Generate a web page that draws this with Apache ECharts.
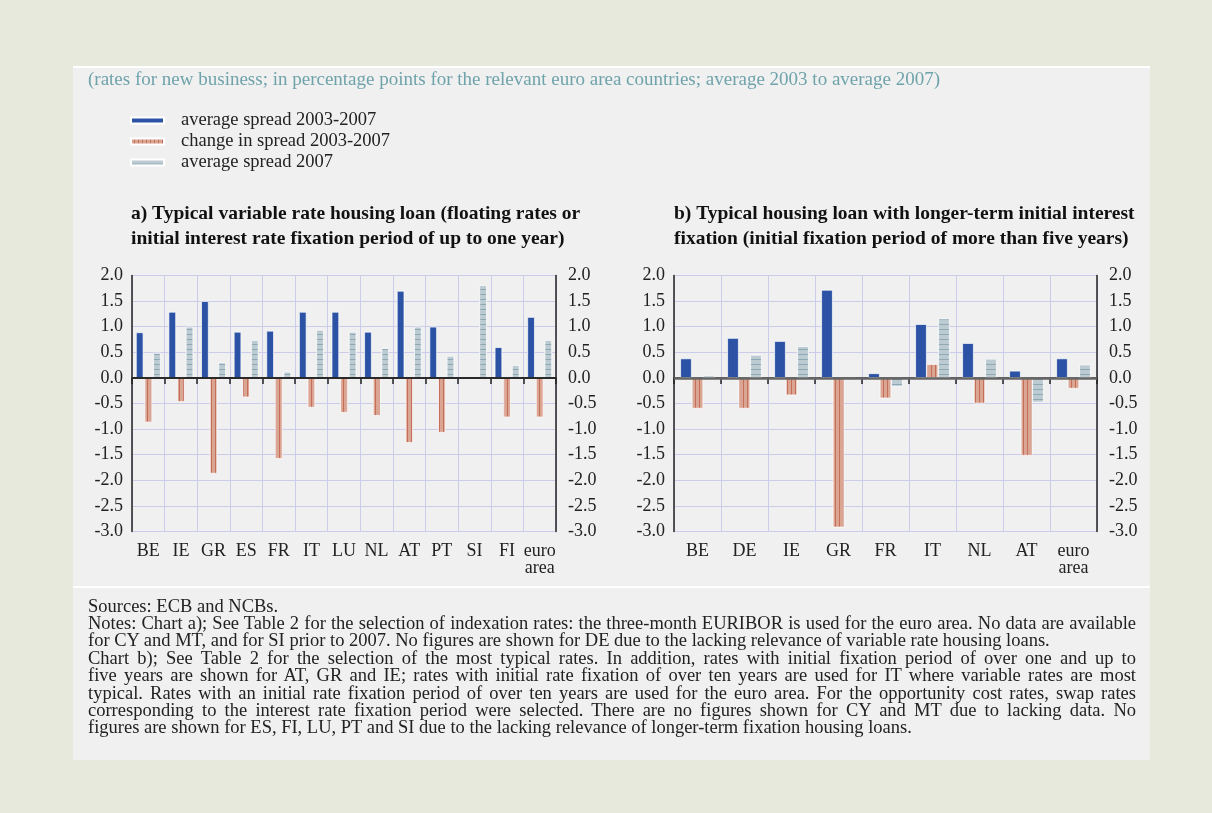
<!DOCTYPE html>
<html>
<head>
<meta charset="utf-8">
<script src="https://cdn.jsdelivr.net/npm/echarts@6/dist/echarts.min.js"></script>
<style>
  html, body { margin: 0; padding: 0; background: #e6e9dc; }
  #panel { position: absolute; left: 73px; top: 66px; width: 1077px; height: 694px;
    background: #eff0ef; border-top: 2px solid #fff; box-sizing: border-box; }
  #sep { position: absolute; left: 73px; top: 586px; width: 1077px; height: 2px; background: #fff; }
  #chart { position: absolute; left: 0; top: 0; width: 1212px; height: 813px; }
  #notes { position: absolute; left: 88px; top: 597.5px; width: 1048px;
    font-family: 'Liberation Serif', 'Times New Roman', serif; font-size: 18.5px;
    line-height: 17.4px; color: #222; }
  #notes div { white-space: nowrap; }
  #notes div.j { text-align: justify; text-align-last: justify; }
</style>
</head>
<body>
<div id="panel"></div>
<div id="sep"></div>
<div id="chart"></div>
<div id="notes">
  <div>Sources: ECB and NCBs.</div>
  <div class="j">Notes: Chart a); See Table 2 for the selection of indexation rates: the three-month EURIBOR is used for the euro area. No data are available</div>
  <div>for CY and MT, and for SI prior to 2007. No figures are shown for DE due to the lacking relevance of variable rate housing loans.</div>
  <div class="j">Chart b); See Table 2 for the selection of the most typical rates. In addition, rates with initial fixation period of over one and up to</div>
  <div class="j">five years are shown for AT, GR and IE; rates with initial rate fixation of over ten years are used for IT where variable rates are most</div>
  <div class="j">typical. Rates with an initial rate fixation period of over ten years are used for the euro area. For the opportunity cost rates, swap rates</div>
  <div class="j">corresponding to the interest rate fixation period were selected. There are no figures shown for CY and MT due to lacking data. No</div>
  <div>figures are shown for ES, FI, LU, PT and SI due to the lacking relevance of longer-term fixation housing loans.</div>
</div>
<script>
// chart a) variable rate loans
const catsA = ['BE', 'IE', 'GR', 'ES', 'FR', 'IT', 'LU', 'NL', 'AT', 'PT', 'SI', 'FI', 'euro\narea'];
const avgSpreadA = [0.89, 1.29, 1.50, 0.90, 0.92, 1.29, 1.29, 0.90, 1.70, 1.00, null, 0.60, 1.19];
const changeA = [-0.87, -0.47, -1.87, -0.38, -1.58, -0.58, -0.68, -0.74, -1.27, -1.07, null, -0.77, -0.77];
const spread2007A = [0.49, 1.00, 0.30, 0.74, 0.12, 0.94, 0.90, 0.58, 1.00, 0.43, 1.81, 0.25, 0.74];

// chart b) longer-term fixation loans
const catsB = ['BE', 'DE', 'IE', 'GR', 'FR', 'IT', 'NL', 'AT', 'euro\narea'];
const avgSpreadB = [0.38, 0.78, 0.72, 1.72, 0.09, 1.05, 0.68, 0.14, 0.38];
const changeB = [-0.60, -0.60, -0.34, -2.92, -0.40, 0.27, -0.50, -1.52, -0.21];
const spread2007B = [0.05, 0.45, 0.62, -0.04, -0.17, 1.16, 0.37, -0.48, 0.26];

const NAMES = ['average spread 2003-2007', 'change in spread 2003-2007', 'average spread 2007'];
const FONT = "'Liberation Serif', 'Times New Roman', serif";
const INK = '#222';
const GRIDLINE = '#cbcbea';

function stripes(w, h, bg, fg, vertical) {
  const c = document.createElement('canvas');
  c.width = w; c.height = h;
  const ctx = c.getContext('2d');
  ctx.fillStyle = bg; ctx.fillRect(0, 0, w, h);
  ctx.fillStyle = fg;
  if (vertical) ctx.fillRect(w - 1, 0, 1, h);
  else ctx.fillRect(0, h - 1, w, 1);
  return c;
}
const BLUE = '#2b52a4';
const RED = { image: stripes(4, 4, '#dba594', '#c46f5a', true), repeat: 'repeat' };
const GREY = { image: stripes(4, 5, '#bccad2', '#8ea8b4', false), repeat: 'repeat' };
const colors = [BLUE, RED, GREY];

function axesFor(i, cats) {
  const label = { fontFamily: FONT, fontSize: 18, color: INK };
  const x = {
    type: 'category', gridIndex: i, data: cats,
    axisLine: { lineStyle: { color: INK, width: 1.5 } },
    axisTick: { show: true, length: 6, lineStyle: { color: INK, width: 1.5 } },
    axisLabel: { ...label, margin: 11, lineHeight: 17, interval: 0 },
    splitLine: { show: true, lineStyle: { color: GRIDLINE, width: 1 } },
  };
  const yBase = {
    type: 'value', gridIndex: i, min: -3, max: 2, interval: 0.5,
    axisLine: { show: true, lineStyle: { color: INK, width: 1.5 } },
    axisTick: { show: false },
  };
  const yl = { ...yBase, position: 'left',
    axisLabel: { ...label, margin: 9, formatter: v => v.toFixed(1) },
    splitLine: { show: true, lineStyle: { color: GRIDLINE, width: 1 } } };
  const yr = { ...yBase, position: 'right',
    axisLabel: { ...label, margin: 12, formatter: v => v.toFixed(1) },
    splitLine: { show: false } };
  return { x, ys: [yl, yr] };
}

const ax0 = axesFor(0, catsA);
const ax1 = axesFor(1, catsB);

function barSeries(gridIdx, yIdx, arrays, width, gap, zeroColor, zeroWidth) {
  return arrays.map((d, k) => ({
    name: NAMES[k], type: 'bar',
    xAxisIndex: gridIdx, yAxisIndex: yIdx,
    data: d, barWidth: width, barGap: gap,
    itemStyle: { color: colors[k], borderColor: '#ffffff', borderWidth: 0.7 },
    ...(k === 0 ? {
      markLine: {
        silent: true, symbol: ['none', 'none'], label: { show: false },
        lineStyle: { color: zeroColor, width: zeroWidth, type: 'solid' },
        data: [{ yAxis: 0 }],
      },
    } : {}),
  }));
}

const chart = echarts.init(document.getElementById('chart'), null, { renderer: 'canvas' });
chart.setOption({
  animation: false,
  backgroundColor: 'transparent',
  textStyle: { fontFamily: FONT },
  title: [
    { text: '(rates for new business; in percentage points for the relevant euro area countries; average 2003 to average 2007)',
      left: 88, top: 70, padding: 0,
      textStyle: { fontFamily: FONT, fontSize: 19, fontWeight: 'normal', color: '#6fa3ab', lineHeight: 20 } },
    { text: 'a) Typical variable rate housing loan (floating rates or\ninitial interest rate fixation period of up to one year)',
      left: 131, top: 201.5, padding: 0,
      textStyle: { fontFamily: FONT, fontSize: 19.5, fontWeight: 'bold', color: '#111', lineHeight: 25 } },
    { text: 'b) Typical housing loan with longer-term initial interest\nfixation (initial fixation period of more than five years)',
      left: 674, top: 201.5, padding: 0,
      textStyle: { fontFamily: FONT, fontSize: 19.5, fontWeight: 'bold', color: '#111', lineHeight: 25 } },
  ],
  legend: {
    data: NAMES, orient: 'vertical', left: 130, top: 110, padding: 0,
    itemWidth: 33, itemHeight: 6, itemGap: 0, icon: 'rect',
    selectedMode: false,
    textStyle: { fontFamily: FONT, fontSize: 18.5, color: INK, lineHeight: 21, padding: [0, 0, 0, 12] },
  },
  grid: [
    { left: 132, top: 275.5, width: 424, height: 256 },
    { left: 674, top: 275.5, width: 423, height: 256 },
  ],
  xAxis: [ax0.x, ax1.x],
  yAxis: [...ax0.ys, ...ax1.ys],
  series: [
    ...barSeries(0, 0, [avgSpreadA, changeA, spread2007A], 7.5, '15%', '#2a2a2a', 2),
    ...barSeries(1, 2, [avgSpreadB, changeB, spread2007B], 11.5, '0%', '#666666', 2.5),
  ],
});
</script>
</body>
</html>
